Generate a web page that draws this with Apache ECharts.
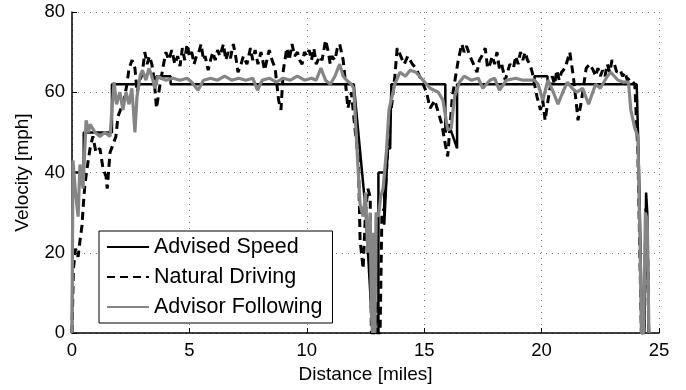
<!DOCTYPE html>
<html>
<head>
<meta charset="utf-8">
<script src="https://cdn.jsdelivr.net/npm/echarts@6/dist/echarts.min.js"></script>
<style>
  html, body { margin: 0; padding: 0; background: #fff; }
  #main { width: 686px; height: 390px; }
</style>
</head>
<body>
<div id="main"></div>
<script>
// [distance (miles), velocity (mph)]
var advisedSpeed = [
  [0, 0], [0.03, 40], [0.5, 40], [0.5, 50], [1.7, 50], [1.7, 62], [3.6, 62], [3.6, 64], [4.2, 64], [4.2, 62],
  [12.0, 62], [12.5, 31], [12.8, 0], [12.85, 0], [12.87, 11], [12.92, 0], [13.05, 0], [13.05, 40], [13.3, 40],
  [13.3, 27], [13.45, 46], [13.55, 46], [13.6, 62], [15.9, 62], [15.9, 50], [16.05, 52], [16.4, 46], [16.4, 62],
  [19.7, 62], [19.7, 64], [20.25, 64], [20.25, 62], [24.05, 62], [24.15, 40], [24.28, 0], [24.38, 0], [24.45, 35],
  [24.5, 30], [24.57, 0], [24.6, 0]
];

var naturalDriving = [
  [0, 0], [0.04, 0], [0.06, 16], [0.15, 21], [0.26, 19], [0.34, 23], [0.43, 27], [0.47, 31], [0.55, 37], [0.64, 41],
  [0.77, 46], [0.89, 49], [1.02, 45], [1.19, 46], [1.32, 41], [1.45, 39], [1.5, 36], [1.62, 45], [1.75, 47],
  [1.87, 49], [1.96, 54], [2.09, 56], [2.21, 58], [2.34, 62], [2.43, 66], [2.56, 68], [2.68, 66], [2.77, 60],
  [2.9, 63], [3.0, 65], [3.1, 70], [3.2, 67], [3.3, 69], [3.4, 67], [3.5, 63], [3.6, 56], [3.75, 62], [3.9, 67],
  [4.0, 70], [4.12, 68], [4.25, 70.5], [4.38, 67], [4.5, 69], [4.6, 66.5], [4.7, 71], [4.8, 68], [4.9, 72],
  [5.0, 69], [5.1, 70], [5.2, 67], [5.3, 69], [5.4, 70], [5.5, 72], [5.6, 68], [5.67, 69], [5.8, 65.5], [5.9, 68],
  [6.0, 70], [6.1, 68], [6.2, 70.5], [6.3, 69], [6.45, 72], [6.55, 68], [6.65, 70], [6.75, 68.5], [6.87, 72],
  [6.97, 69], [7.07, 65], [7.2, 67], [7.3, 69], [7.45, 67], [7.6, 71], [7.7, 68], [7.8, 70.5], [7.92, 67],
  [8.05, 70], [8.12, 68], [8.2, 65.5], [8.3, 68], [8.4, 70.5], [8.52, 68], [8.65, 66], [8.8, 58], [8.9, 55.6],
  [9.0, 65.5], [9.15, 71], [9.25, 68], [9.37, 72], [9.48, 69], [9.6, 70], [9.7, 68], [9.8, 67], [9.9, 70],
  [10.0, 69], [10.1, 70.5], [10.2, 68], [10.3, 71], [10.4, 67], [10.55, 69], [10.65, 68], [10.8, 73], [10.9, 70.5],
  [11.0, 67], [11.07, 69], [11.2, 68], [11.3, 71], [11.4, 72], [11.55, 68], [11.67, 61], [11.75, 56], [11.9, 60],
  [12.05, 51], [12.2, 43], [12.27, 23], [12.4, 16], [12.5, 30], [12.6, 36], [12.7, 34], [12.75, 0], [12.9, 0],
  [12.95, 8], [13.0, 0], [13.12, 0], [13.2, 30], [13.3, 31], [13.45, 46], [13.5, 53], [13.6, 56], [13.75, 64],
  [13.85, 71], [14.0, 69], [14.15, 67], [14.3, 69], [14.5, 67], [14.65, 66], [14.8, 64], [14.95, 62], [15.1, 60],
  [15.25, 56], [15.45, 58], [15.6, 55], [15.75, 52], [15.9, 47], [16.0, 44], [16.2, 59], [16.45, 68], [16.6, 72],
  [16.7, 70], [16.8, 71.5], [16.95, 69], [17.1, 67], [17.25, 65], [17.35, 68], [17.45, 69], [17.6, 71], [17.7, 66],
  [17.8, 67], [17.9, 69], [18.0, 67], [18.1, 70], [18.2, 66], [18.3, 67], [18.45, 63], [18.55, 65], [18.65, 67],
  [18.8, 66], [18.9, 69], [19.0, 67], [19.1, 70], [19.2, 68], [19.3, 70], [19.4, 68], [19.5, 67], [19.6, 65],
  [19.7, 62], [19.8, 59], [19.95, 55.6], [20.05, 58], [20.15, 53], [20.3, 59], [20.45, 64], [20.55, 62],
  [20.65, 65.5], [20.75, 63], [20.85, 65], [21.0, 66], [21.1, 68], [21.2, 70], [21.35, 64], [21.5, 56], [21.55, 53],
  [21.7, 58], [21.9, 66], [22.05, 67], [22.2, 65.5], [22.3, 64], [22.4, 66], [22.5, 64], [22.6, 65.5], [22.7, 64],
  [22.8, 67], [22.9, 65], [23.0, 68], [23.1, 67], [23.2, 65], [23.35, 65.5], [23.45, 64], [23.55, 65], [23.65, 63],
  [23.75, 63.5], [23.97, 62], [24.1, 45], [24.25, 0], [24.36, 0], [24.44, 31], [24.5, 28], [24.56, 0], [24.6, 0]
];

var advisorFollowing = [
  [0, 0], [0.02, 0], [0.04, 43], [0.15, 35], [0.26, 29], [0.34, 42], [0.47, 36], [0.6, 53], [0.7, 50], [0.77, 52],
  [0.98, 50], [1.19, 49], [1.4, 50], [1.62, 49], [1.79, 62.5], [1.9, 57], [2.04, 60], [2.17, 55.6], [2.3, 60],
  [2.43, 57], [2.55, 61], [2.68, 50], [2.77, 59], [2.9, 64], [3.0, 65.5], [3.15, 63], [3.28, 66], [3.4, 64],
  [3.53, 61], [3.66, 64], [3.8, 63.5], [4.0, 63], [4.3, 63.5], [4.6, 63], [4.9, 63.5], [5.1, 62.5], [5.37, 60.5],
  [5.6, 63], [5.9, 63.5], [6.2, 63], [6.5, 64], [6.8, 63], [7.1, 63.5], [7.4, 63], [7.7, 63.5], [7.9, 60.5],
  [8.1, 63], [8.4, 63.5], [8.7, 62.5], [9.0, 63.5], [9.3, 63], [9.6, 64], [9.9, 63], [10.2, 63.5], [10.4, 63],
  [10.6, 66], [10.8, 63], [11.0, 62], [11.2, 64], [11.4, 67], [11.55, 64], [11.7, 63], [11.9, 62], [12.0, 61],
  [12.1, 50], [12.27, 32], [12.4, 29], [12.5, 35], [12.6, 20], [12.7, 30], [12.75, 5], [12.8, 0], [12.85, 25],
  [12.9, 0], [12.95, 30], [13.05, 29], [13.15, 34], [13.25, 36], [13.4, 46], [13.5, 55.6], [13.75, 62],
  [13.97, 65], [14.2, 64], [14.4, 65.5], [14.65, 65], [14.95, 63], [15.25, 61], [15.6, 60], [15.8, 58], [16.0, 50.6],
  [16.15, 51], [16.2, 54], [16.3, 59], [16.5, 62.5], [16.7, 64], [17.0, 63], [17.3, 63.5], [17.5, 61], [17.8, 63],
  [18.0, 63.5], [18.2, 60.5], [18.5, 63], [18.9, 63.5], [19.2, 63], [19.5, 63], [19.7, 63], [19.85, 62], [20.05, 58],
  [20.27, 63], [20.5, 60], [20.7, 57], [20.9, 60], [21.1, 62.5], [21.3, 61], [21.5, 60], [21.75, 61], [22.0, 57],
  [22.3, 62], [22.5, 61], [22.8, 64], [22.95, 65], [23.25, 63], [23.5, 62.5], [23.7, 62.5], [23.8, 55.6],
  [23.97, 51], [24.1, 49], [24.2, 20], [24.25, 0], [24.35, 0], [24.42, 30], [24.5, 28], [24.57, 0], [24.6, 0]
];

var xTicks = [0, 5, 10, 15, 20, 25];
var yTicks = [0, 20, 40, 60, 80];

var font = "'Liberation Sans', Arial, Helvetica, sans-serif";
var myChart = echarts.init(document.getElementById('main'));

var option = {
  animation: false,
  backgroundColor: '#fff',
  grid: { left: 72, right: 27, top: 12, bottom: 57 },
  legend: {
    orient: 'vertical',
    left: 99,
    top: 231,
    data: ['Advised Speed', 'Natural Driving', 'Advisor Following'],
    itemWidth: 42,
    itemHeight: 14,
    itemGap: 8,
    padding: [5, 10, 5, 7],
    borderColor: '#000',
    borderWidth: 1,
    backgroundColor: '#fff',
    itemStyle: { opacity: 0 },
    textStyle: { fontFamily: font, fontSize: 21.5, color: '#000', lineHeight: 21 }
  },
  xAxis: {
    type: 'value',
    min: xTicks[0],
    max: xTicks[xTicks.length - 1],
    interval: 5,
    name: 'Distance [miles]',
    nameLocation: 'middle',
    nameGap: 32,
    nameTextStyle: { fontFamily: font, fontSize: 19, color: '#000' },
    axisLine: { lineStyle: { color: '#000', width: 1.5 } },
    axisTick: { inside: true, length: 5, lineStyle: { color: '#000' } },
    axisLabel: { fontFamily: font, fontSize: 18.5, color: '#000', margin: 8 },
    splitLine: { show: true, lineStyle: { color: '#777', type: [1, 5], width: 1 } }
  },
  yAxis: {
    type: 'value',
    min: yTicks[0],
    max: yTicks[yTicks.length - 1],
    interval: 20,
    name: 'Velocity [mph]',
    nameLocation: 'middle',
    nameGap: 40,
    nameTextStyle: { fontFamily: font, fontSize: 19, color: '#000' },
    axisLine: { show: true, lineStyle: { color: '#000', width: 1.5 } },
    axisTick: { show: true, inside: true, length: 5, lineStyle: { color: '#000' } },
    axisLabel: { fontFamily: font, fontSize: 18.5, color: '#000', margin: 7 },
    splitLine: { show: true, lineStyle: { color: '#777', type: [1, 5], width: 1 } }
  },
  series: [
    {
      name: 'Advised Speed',
      type: 'line',
      data: advisedSpeed,
      symbol: 'none',
      color: '#000',
      lineStyle: { color: '#000', width: 2.5 },
      z: 3
    },
    {
      name: 'Natural Driving',
      type: 'line',
      data: naturalDriving,
      symbol: 'none',
      color: '#000',
      lineStyle: { color: '#000', width: 3, type: [8, 5] },
      z: 2
    },
    {
      name: 'Advisor Following',
      type: 'line',
      data: advisorFollowing,
      symbol: 'none',
      color: '#858585',
      lineStyle: { color: '#858585', width: 3.2 },
      z: 4
    }
  ]
};

myChart.setOption(option);
</script>
</body>
</html>
